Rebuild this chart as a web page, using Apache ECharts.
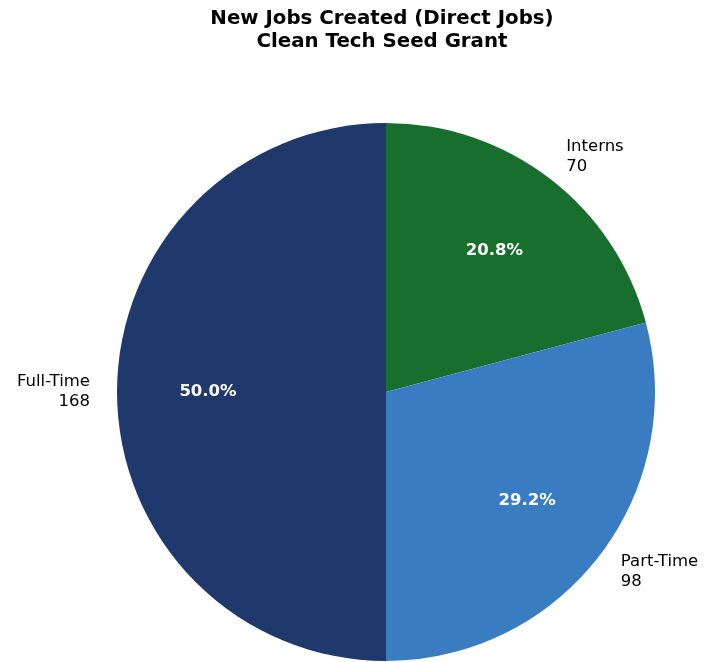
<!DOCTYPE html>
<html>
<head>
<meta charset="utf-8">
<script src="https://cdn.jsdelivr.net/npm/echarts@6/dist/echarts.min.js"></script>
<style>html,body{margin:0;padding:0;background:#fff}#c{width:706px;height:662px}</style>
</head>
<body>
<div id="c"></div>
<script>
var categories = ['Interns', 'Part-Time', 'Full-Time'];
var values = [70, 98, 168];
var colors = ['#186e2d', '#3a7cc2', '#1f396c'];
var titleLines = ['New Jobs Created (Direct Jobs)', 'Clean Tech Seed Grant'];

var chart = echarts.init(document.getElementById('c'));
var font = 'DejaVu Sans';
var R = 269;
var data = categories.map(function (c, i) {
  return { name: c, value: values[i], itemStyle: { color: colors[i] } };
});
var ghost = categories.map(function (c, i) {
  return { name: c, value: values[i] };
});
chart.setOption({
  backgroundColor: '#ffffff',
  animation: false,
  title: {
    text: titleLines.join('\n'),
    left: 377,
    top: 2,
    textAlign: 'center',
    textStyle: { fontFamily: font, fontWeight: 'bold', fontSize: 19.8, lineHeight: 23, color: '#000' }
  },
  series: [
    {
      type: 'pie',
      center: [386, 392],
      radius: [0, R],
      startAngle: 90,
      clockwise: true,
      avoidLabelOverlap: false,
      silent: true,
      itemStyle: { borderWidth: 0 },
      label: {
        show: true,
        position: 'outside',
        distanceToLabelLine: 0,
        fontFamily: font,
        fontSize: 16.5,
        lineHeight: 20,
        color: '#000',
        formatter: function (p) { return p.name + '\n' + p.value; }
      },
      labelLine: { show: false, length: 27, length2: 0 },
      data: data
    },
    {
      type: 'pie',
      center: [386, 392],
      radius: [0, 350],
      startAngle: 90,
      clockwise: true,
      silent: true,
      z: 5,
      itemStyle: { color: 'rgba(0,0,0,0)', borderWidth: 0 },
      label: {
        show: true,
        position: 'inside',
        fontFamily: font,
        fontWeight: 'bold',
        fontSize: 16.5,
        color: '#ffffff',
        formatter: function (p) { return p.percent.toFixed(1) + '%'; }
      },
      labelLine: { show: false },
      data: ghost
    }
  ]
});
</script>
</body>
</html>
